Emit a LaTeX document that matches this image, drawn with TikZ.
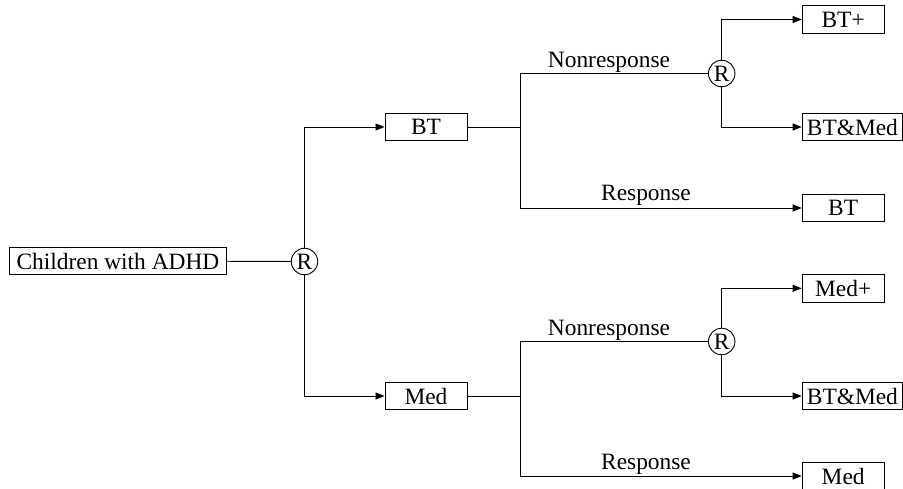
\documentclass[tikz,border=0pt]{standalone}
\usepackage{fontspec}
\setmainfont{Liberation Serif}
\usetikzlibrary{arrows.meta}

\begin{document}
\begin{tikzpicture}[x=1pt, y=-1pt,
  font=\fontsize{23.4}{28}\selectfont,
  every path/.style={line width=0.9pt},
  box/.style={draw, line width=0.9pt, minimum height=27.5pt, minimum width=82pt,
              inner sep=0pt, anchor=west},
  rnode/.style={draw, circle, line width=0.9pt, minimum size=26.5pt, inner sep=0pt,
                fill=white},
  arr/.style={-{Triangle[length=9pt, width=7pt]}},
  lbl/.style={anchor=base, inner sep=0pt}]

  \useasboundingbox (0,0) rectangle (903,489);

  % root and first randomisation
  \node[box, minimum width=217pt] (child) at (9,261) {Children with ADHD};
  \node[rnode] (r0) at (304.5,261.5) {R};

  % first-stage treatments
  \node[box] (bt)  at (384.5,127) {BT};
  \node[box] (med) at (384.5,396) {Med};

  % branching points after the first stage
  \coordinate (j1) at (520,127);
  \coordinate (j2) at (520,396);

  % second randomisations
  \node[rnode] (r1) at (721.7,73.5) {R};
  \node[rnode] (r2) at (721.7,341.5) {R};

  % second-stage treatments
  \node[box] (btplus)  at (801.7,19.5) {BT+};
  \node[box, minimum width=100.5pt] (btmed1) at (801.7,127) {BT\&Med};
  \node[box] (btresp)  at (801.7,208) {BT};
  \node[box] (medplus) at (801.7,288.3) {Med+};
  \node[box, minimum width=100.5pt] (btmed2) at (801.7,396) {BT\&Med};
  \node[box] (medresp) at (801.7,476) {Med};

  % connectors
  \draw (child) -- (r0);
  \draw[arr] (r0.north) |- (bt.west);
  \draw[arr] (r0.south) |- (med.west);

  \draw (bt.east) -- (j1);
  \draw (j1) |- (r1.west);
  \draw[arr] (j1) |- (btresp.west);
  \draw[arr] (r1.north) |- (btplus.west);
  \draw[arr] (r1.south) |- (btmed1.west);

  \draw (med.east) -- (j2);
  \draw (j2) |- (r2.west);
  \draw[arr] (j2) |- (medresp.west);
  \draw[arr] (r2.north) |- (medplus.west);
  \draw[arr] (r2.south) |- (btmed2.west);

  % branch labels
  \node[lbl] (nr1) at (609,67.3) {Nonresponse};
  \node[lbl] (rs1) at (646,201) {Response};
  \node[lbl] (nr2) at (609,335.3) {Nonresponse};
  \node[lbl] (rs2) at (646,469.5) {Response};
\end{tikzpicture}
\end{document}
